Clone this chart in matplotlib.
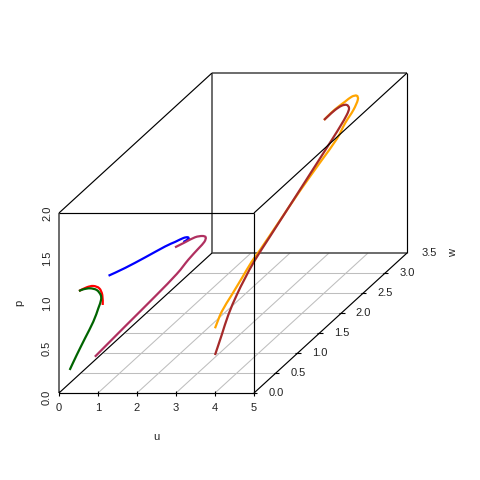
"""plot.py - 3D trajectories (u, w, p) in an oblique box, R scatterplot3d look"""
import matplotlib
matplotlib.use("Agg")
import matplotlib.pyplot as plt
from matplotlib.path import Path
from matplotlib.patches import PathPatch
import numpy as np

plt.rcParams["font.family"] = ["Liberation Sans", "DejaVu Sans"]

# curves, drawn in this order
red_u = [1.121, 1.110, 1.033, 0.879, 0.710, 0.513]
red_w = [0, 0, 0, 0, 0, 0]
red_p = [0.978, 1.089, 1.163, 1.189, 1.174, 1.133]

green_u = [0.274, 0.454, 0.667, 0.879, 1.008, 1.077, 1.069, 0.967, 0.795, 0.623, 0.513]
green_w = [0, 0, 0, 0, 0, 0, 0, 0, 0, 0, 0]
green_p = [0.256, 0.422, 0.608, 0.792, 0.941, 1.033, 1.089, 1.144, 1.163, 1.152, 1.133]

blue_u = [1.27] * 9
blue_w = [0, 0.378, 0.835, 1.293, 1.522, 1.712, 1.812, 1.826, 1.712]
blue_p = [1.303, 1.221, 1.135, 1.053, 1.002, 0.961, 0.925, 0.900, 0.917]

maroon_u = [0.92] * 12
maroon_w = [0, 0.689, 1.375, 1.872, 2.137, 2.366, 2.503, 2.535, 2.458, 2.291, 2.062, 1.833]
maroon_p = [0.403, 0.433, 0.461, 0.490, 0.531, 0.552, 0.566, 0.603, 0.652, 0.712, 0.758, 0.804]

orange_u = [4.0] * 19
orange_w = [0, 0.153, 0.382, 0.611, 0.840, 1.030, 1.487, 1.945, 2.403, 2.785, 2.975, 3.165, 3.266, 3.243, 3.128, 2.975, 2.821, 2.654, 2.494]
orange_p = [0.719, 0.835, 0.919, 1.002, 1.086, 1.131, 1.257, 1.383, 1.493, 1.584, 1.675, 1.737, 1.805, 1.862, 1.902, 1.915, 1.927, 1.932, 1.925]

brown_u = [4.0] * 18
brown_w = [0, 0.153, 0.304, 0.497, 0.686, 0.915, 1.259, 1.716, 2.174, 2.670, 2.860, 3.014, 3.066, 3.014, 2.899, 2.746, 2.593, 2.494]
brown_p = [0.422, 0.576, 0.732, 0.868, 0.969, 1.071, 1.180, 1.323, 1.467, 1.624, 1.688, 1.750, 1.800, 1.861, 1.904, 1.924, 1.926, 1.925]

u_ticks = [0, 1, 2, 3, 4, 5]
w_ticks = [0.0, 0.5, 1.0, 1.5, 2.0, 2.5, 3.0, 3.5]
p_ticks = [0.0, 0.5, 1.0, 1.5, 2.0]

U_MAX, W_MAX, P_MAX = 5, 3.5, 2
KX, KY = 1.1209, 0.4444     # how far one unit of w shifts the point on screen


def proj(u, w, p):
    u, w, p = np.asarray(u, float), np.asarray(w, float), np.asarray(p, float)
    return u + KX * w, p + KY * w


fig = plt.figure(figsize=(4.8, 4.8), dpi=100, facecolor="white")
ax = fig.add_axes([59 / 480, 87 / 480, 348 / 480, 320 / 480])
ax.set_xlim(0, U_MAX + W_MAX * KX)
ax.set_ylim(0, P_MAX + W_MAX * KY)
ax.axis("off")


def seg(a, b, **kw):
    x, y = proj(*zip(a, b))
    ax.plot(x, y, clip_on=False, solid_capstyle="butt", **kw)


def smooth_curve(x, y, col):
    # the read points are sparse, so join them with bezier pieces, not corners
    pts = np.column_stack([x, y])
    ends = np.vstack([pts[0], pts, pts[-1]])
    verts, codes = [pts[0]], [Path.MOVETO]
    for i in range(len(pts) - 1):
        c1 = ends[i + 1] + (ends[i + 2] - ends[i]) / 6
        c2 = ends[i + 2] - (ends[i + 3] - ends[i + 1]) / 6
        verts += [c1, c2, ends[i + 2]]
        codes += [Path.CURVE4] * 3
    ax.add_patch(PathPatch(Path(verts, codes), fill=False, edgecolor=col, lw=1.6,
                           zorder=3, clip_on=False, capstyle="butt"))


# floor grid
for u in u_ticks[1:-1]:
    seg((u, 0, 0), (u, W_MAX, 0), color="#BEBEBE", lw=0.75, zorder=1)
for w in w_ticks[1:-1]:
    seg((0, w, 0), (U_MAX, w, 0), color="#BEBEBE", lw=0.75, zorder=1)

# back of the box
back = dict(color="#444444", lw=1.1, zorder=2)
seg((0, W_MAX, 0), (0, W_MAX, P_MAX), **back)
seg((0, W_MAX, P_MAX), (U_MAX, W_MAX, P_MAX), **back)
seg((U_MAX, W_MAX, 0), (U_MAX, W_MAX, P_MAX), color="black", lw=0.85, zorder=2)
seg((0, W_MAX, 0), (U_MAX, W_MAX, 0), **back)
seg((0, 0, 0), (0, 0, P_MAX), **back)

# curves
for u, w, p, col in [(red_u, red_w, red_p, "#FF0000"),
                     (green_u, green_w, green_p, "#006400"),
                     (blue_u, blue_w, blue_p, "#0000FF"),
                     (maroon_u, maroon_w, maroon_p, "#B03060"),
                     (orange_u, orange_w, orange_p, "#FFA500"),
                     (brown_u, brown_w, brown_p, "#A52A2A")]:
    x, y = proj(u, w, p)
    smooth_curve(x, y, col)

# front of the box
front = dict(color="black", lw=0.85, zorder=4)
seg((0, 0, 0), (U_MAX, 0, 0), **front)
seg((0, 0, P_MAX), (U_MAX, 0, P_MAX), **front)
seg((U_MAX, 0, 0), (U_MAX, 0, P_MAX), **front)
seg((0, 0, 0), (0, W_MAX, 0), **front)
seg((U_MAX, 0, 0), (U_MAX, W_MAX, 0), **front)
seg((0, 0, P_MAX), (0, W_MAX, P_MAX), **front)
seg((U_MAX, 0, P_MAX), (U_MAX, W_MAX, P_MAX), **front)


def label(s, u, w, p, dx=0, dy=0, rot=0):
    ax.annotate(s, proj(u, w, p), xytext=(dx, dy), textcoords="offset pixels",
                ha="center", va="center", rotation=rot, fontsize=8,
                color="#222222", annotation_clip=False)


for u in u_ticks:
    seg((u, 0, -0.03), (u, 0, 0.02), color="black", lw=0.8, zorder=4)
    label(str(u), u, 0, 0, dy=-15)
for w in w_ticks[:-1]:
    seg((U_MAX - 0.06, w, 0), (U_MAX + 0.08, w, 0), color="black", lw=0.8, zorder=4)
for w in w_ticks:
    label(f"{w:.1f}", U_MAX, w, 0, dx=22)
for p in p_ticks:
    label(f"{p:.1f}", 0, 0, p, dx=-12, dy=-4 if p == 0 else 0, rot=90)

label("u", 2.5, 0, 0, dy=-44)
label("p", 0, 0, 1, dx=-40, rot=90)
label("w", U_MAX, W_MAX, 0, dx=46, rot=90)

fig.savefig("out.png", dpi=100, facecolor="white")
